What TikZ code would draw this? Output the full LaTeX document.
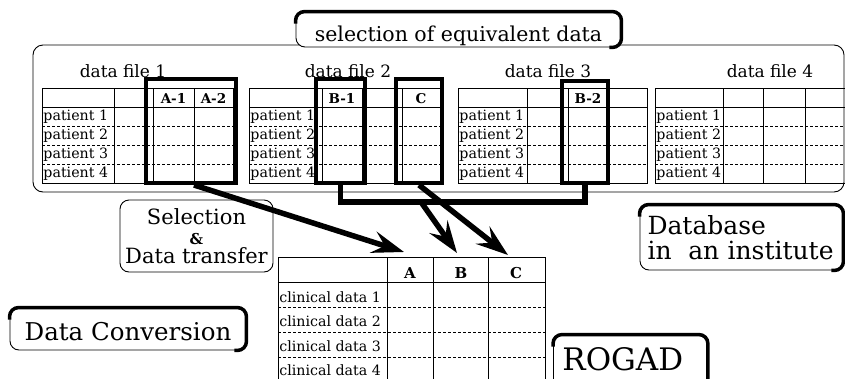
\documentclass[tikz,border=0pt]{standalone}
\usepackage{fontspec}
\setmainfont{DejaVu Serif}
\usetikzlibrary{arrows.meta}

\newcommand{\fsz}[1]{\fontsize{#1}{#1}\selectfont}

% one data file: left, right, column lines, name
\newcommand{\datafile}[4]{%
  \draw (#1,88) rectangle (#2,183);
  \draw (#1,107) -- (#2,107);
  \foreach \col in {#3} \draw (\col,88) -- (\col,183);
  \foreach \row in {126,145,164} \draw[dotline] (#1,\row) -- (#2,\row);
  \foreach \row in {1,...,4}
    \node[pat] (#4p\row) at (#1+1,101+19*\row) {patient \row};
}

\begin{document}
\begin{tikzpicture}[x=1pt,y=-1pt,line width=0.9pt,
  pat/.style={anchor=base west,inner sep=0pt,font=\fsz{14.2}},
  hd/.style={anchor=base,inner sep=0pt,font=\bfseries\fsz{13.5}},
  dbhd/.style={anchor=base,inner sep=0pt,font=\bfseries\fsz{15}},
  ttl/.style={anchor=base,inner sep=0pt,font=\fsz{17}},
  clin/.style={anchor=base west,inner sep=0pt,font=\fsz{14.2}},
  dotline/.style={dash pattern=on 3pt off 2pt},
  selbox/.style={draw,line width=4pt,inner sep=0pt},
  lbl/.style={draw,rounded corners=9pt,fill=white,inner sep=0pt},
  heavy/.style={line width=3.5pt,rounded corners=9pt},
  link/.style={line width=5.5pt},
  fat/.style={line width=5.5pt,-{Stealth[length=32pt,width=22pt,inset=12pt]}}]
\useasboundingbox (0,0) rectangle (845,378);
\clip (0,0) rectangle (845,378);

\draw[rounded corners=10pt] (33,45) rectangle (844,192);

\node[ttl] (t1) at (123,77) {data file 1};
\datafile{42}{233}{114,153,194}{f1}
\node[hd] (hA1) at (173.5,103) {A-1};
\node[hd] (hA2) at (213.5,103) {A-2};
\node[selbox,minimum width=90pt,minimum height=104pt] (selA) at (191,131) {};

\node[ttl] (t2) at (348,77) {data file 2};
\datafile{249}{440}{322,362,402}{f2}
\node[hd] (hB1) at (342,103) {B-1};
\node[hd] (hC) at (421,103) {C};
\node[selbox,minimum width=49pt,minimum height=104pt] (selB1) at (340.5,131) {};
\node[selbox,minimum width=46pt,minimum height=104pt] (selC) at (419,131) {};

\node[ttl] (t3) at (548,77) {data file 3};
\datafile{458}{647}{527,568,608}{f3}
\node[hd] (hB2) at (588,103) {B-2};
\node[selbox,minimum width=46pt,minimum height=102pt] (selB2) at (585,132) {};

\node[ttl] (t4) at (770,77) {data file 4};
\datafile{655}{870}{723,763,805}{f4}

\node[lbl,anchor=base,minimum width=325pt,text height=29pt,text depth=6pt,font=\fsz{20.5}] (sel) at (458.5,41) {selection of equivalent data};

% ROGAD table
\draw (278,257) rectangle (545,395);
\draw (278,282) -- (545,282);
\foreach \col in {387,433,488} \draw (\col,257) -- (\col,395);
\foreach \row in {307,332,357} \draw[dotline] (278,\row) -- (545,\row);
\foreach \row in {1,...,4}
  \node[clin] (c\row) at (279,277.5+24.5*\row) {clinical data \row};
\node[dbhd] (hA) at (410,278) {A};
\node[dbhd] (hB) at (461,278) {B};
\node[dbhd] (hCC) at (516,278) {C};

\node[lbl,minimum width=153pt,minimum height=72pt,align=center,font=\fsz{21}] (xfer) at (196.5,236) {Selection\\[-1pt]{\bfseries\fsz{15}\&}\\[-2pt]Data transfer};
\node[lbl,anchor=base,minimum width=236pt,text height=32pt,text depth=10pt,font=\fsz{24.5}] (conv) at (128,340) {Data Conversion};
\node[lbl,minimum width=203pt,minimum height=65pt,align=left,text width=188pt,font=\fsz{25}] (dbase) at (741.5,237.5) {Database\\in\ \ an institute};
\node[lbl,anchor=base west,inner xsep=9pt,text width=136pt,align=left,text height=35pt,text depth=25pt,font=\fsz{31}] (rogad) at (553,370) {ROGAD};
\foreach \n in {sel,conv,dbase,rogad}
  \draw[heavy] ([yshift=-12pt]\n.north west) |- (\n.north east) |- ([xshift=-12pt]\n.south east);

\draw[link] (selB1.south) -- ++(0,17) -| (selB2.south);
\coordinate (fromB) at (421,202);
\coordinate (tipA) at (404,252);
\coordinate (tipB) at (457,253);
\coordinate (tipC) at (508,255);
\draw[fat] ([xshift=3pt]selA.south) -- (tipA);
\draw[fat] (fromB) -- (tipB);
\draw[fat] (selC.south) -- (tipC);
\end{tikzpicture}
\end{document}
